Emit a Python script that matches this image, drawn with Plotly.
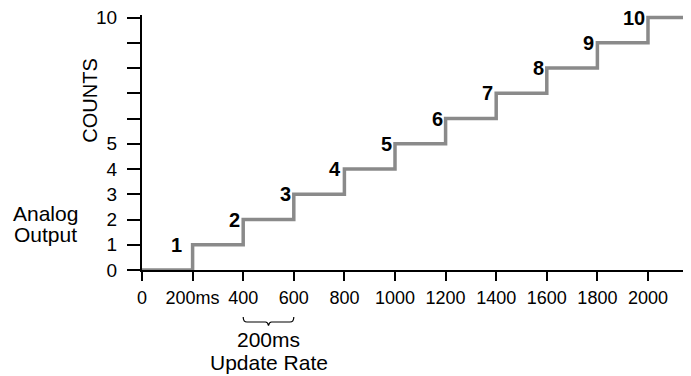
import plotly.graph_objects as go

# staircase data: time (ms) at which each count begins
step_times = [0, 200, 400, 600, 800, 1000, 1200, 1400, 1600, 1800, 2000]
counts = [0, 1, 2, 3, 4, 5, 6, 7, 8, 9, 10]

x_tick_vals = [0, 200, 400, 600, 800, 1000, 1200, 1400, 1600, 1800, 2000]
x_tick_text = ['0', '200ms', '400', '600', '800', '1000', '1200', '1400', '1600', '1800', '2000']
y_tick_vals = [0, 1, 2, 3, 4, 5, 6, 7, 8, 9, 10]
y_tick_text = ['0', '1', '2', '3', '4', '5', '', '', '', '', '10']

update_start, update_end = 400, 600

X_MAX = 2170
Y_MAX = 10.1
FONT = 'Liberation Sans, Arial, sans-serif'

fig = go.Figure()

# gray staircase, held flat to the end of the axis
fig.add_trace(go.Scatter(
    x=step_times + [X_MAX],
    y=counts + [counts[-1]],
    mode='lines',
    line=dict(color='#8a8a8a', width=3.5, shape='hv'),
    hoverinfo='skip',
    showlegend=False,
))

# bold count labels just left of each riser
annotations = []
for t, c in zip(step_times[1:], counts[1:]):
    annotations.append(dict(
        x=t, y=c, xref='x', yref='y', text='<b>%d</b>' % c,
        showarrow=False, xanchor='right', yanchor='middle',
        xshift=-9 if c == 1 else -1,
        font=dict(family=FONT, size=20, color='black'),
    ))

mid = (update_start + update_end) / 2
annotations += [
    dict(x=-0.095, y=6.7, xref='paper', yref='y', text='COUNTS', textangle=-90,
         xanchor='center', yanchor='middle',
         showarrow=False, font=dict(family=FONT, size=20, color='black')),
    dict(x=-0.175, y=2.25, xref='paper', yref='y', text='Analog',
         xanchor='center', yanchor='middle',
         showarrow=False, font=dict(family=FONT, size=21, color='black')),
    dict(x=-0.175, y=1.42, xref='paper', yref='y', text='Output',
         xanchor='center', yanchor='middle',
         showarrow=False, font=dict(family=FONT, size=21, color='black')),
    dict(x=mid, y=-0.2745, xref='x', yref='paper', text='200ms',
         xanchor='center', yanchor='middle',
         showarrow=False, font=dict(family=FONT, size=21, color='black')),
    dict(x=mid, y=-0.361, xref='x', yref='paper', text='Update Rate',
         xanchor='center', yanchor='middle',
         showarrow=False, font=dict(family=FONT, size=21, color='black')),
]

# curly brace under the 400-600 interval
brace = ('M %g,-0.184 Q %g,-0.204 %g,-0.204 L %g,-0.204 Q %g,-0.204 %g,-0.218 '
         'Q %g,-0.204 %g,-0.204 L %g,-0.204 Q %g,-0.204 %g,-0.184') % (
    update_start, update_start, update_start + 15, mid - 12, mid - 3, mid,
    mid + 3, mid + 12, update_end - 15, update_end, update_end)

fig.update_layout(
    width=683, height=368,
    margin=dict(l=134, r=0, t=7, b=106),
    paper_bgcolor='white', plot_bgcolor='white',
    annotations=annotations,
    shapes=[dict(type='path', path=brace, xref='x', yref='paper',
                 line=dict(color='black', width=1.2))],
    xaxis=dict(
        range=[0, X_MAX], tickvals=x_tick_vals, ticktext=x_tick_text, tickangle=0,
        showgrid=False, zeroline=False, showline=True, linecolor='black', linewidth=2,
        ticks='outside', ticklen=9, tickwidth=1.5, tickcolor='black', ticklabelstandoff=1,
        ticklabeloverflow='allow',
        tickfont=dict(family=FONT, size=18, color='black'),
    ),
    yaxis=dict(
        range=[0, Y_MAX], tickvals=y_tick_vals, ticktext=y_tick_text,
        showgrid=False, zeroline=False, showline=True, linecolor='black', linewidth=2,
        ticks='outside', ticklen=13, tickwidth=1.5, tickcolor='black', ticklabelstandoff=6,
        ticklabeloverflow='allow',
        tickfont=dict(family=FONT, size=19, color='black'),
    ),
    # inside tick stubs so ticks cross the axis lines
    xaxis2=dict(overlaying='x', anchor='y', side='bottom', range=[0, X_MAX],
                tickvals=x_tick_vals, ticks='inside', ticklen=8, tickwidth=1.5,
                tickcolor='black', showticklabels=False, showgrid=False, zeroline=False),
    yaxis2=dict(overlaying='y', anchor='x', side='left', range=[0, Y_MAX],
                tickvals=y_tick_vals, ticks='inside', ticklen=3, tickwidth=1.5,
                tickcolor='black', showticklabels=False, showgrid=False, zeroline=False),
)

fig.write_html("out.html")
